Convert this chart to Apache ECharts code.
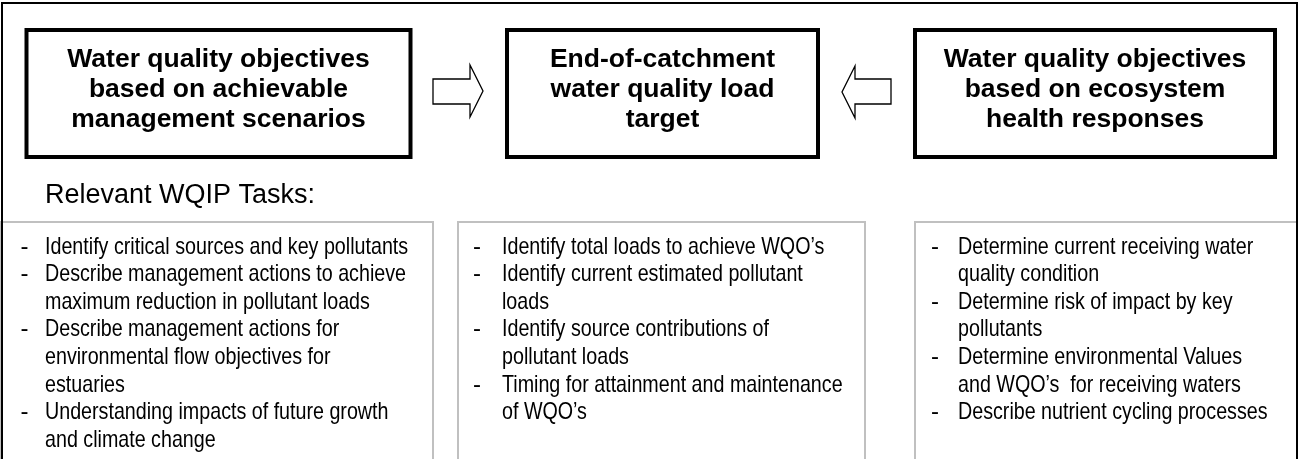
<!DOCTYPE html>
<html>
<head>
<meta charset="utf-8">
<script src="https://cdn.jsdelivr.net/npm/echarts@6/dist/echarts.min.js"></script>
<style>
  html, body { margin: 0; padding: 0; background: #fff; }
  #main { width: 1299px; height: 459px; }
</style>
</head>
<body>
<div id="main"></div>
<script>
// diagram texts
const headTitles = [
  ['Water quality objectives', 'based on achievable', 'management scenarios'],
  ['End-of-catchment', 'water quality load', 'target'],
  ['Water quality objectives', 'based on ecosystem', 'health responses']
]
const taskHeader = 'Relevant WQIP Tasks:'
const tasksManagement = [
  ['Identify critical sources and key pollutants'],
  ['Describe management actions to achieve', 'maximum reduction in pollutant loads'],
  ['Describe management actions for', 'environmental flow objectives for', 'estuaries'],
  ['Understanding impacts of future growth', 'and climate change']
]
const tasksLoads = [
  ['Identify total loads to achieve WQO’s'],
  ['Identify current estimated pollutant', 'loads'],
  ['Identify source contributions of', 'pollutant loads'],
  ['Timing for attainment and maintenance', 'of WQO’s']
]
const tasksEcosystem = [
  ['Determine current receiving water', 'quality condition'],
  ['Determine risk of impact by key', 'pollutants'],
  ['Determine environmental Values', 'and WQO’s  for receiving waters'],
  ['Describe nutrient cycling processes']
]

const FONT = '"Liberation Sans", Arial, Helvetica, sans-serif'

// layout (px)
const headBoxes = [
  { x: 26.5, w: 384 },
  { x: 507, w: 311 },
  { x: 915, w: 360 }
]
const taskBoxes = [
  { x: 1, w: 432, dash: 24.5, text: 45, items: tasksManagement },
  { x: 458, w: 407, dash: 477, text: 502, items: tasksLoads },
  { x: 915, w: 382, dash: 935, text: 958, items: tasksEcosystem }
]
const lineTop = 247
const lineStep = 27.6

const elements = []

// grey task boxes
taskBoxes.forEach((b) => {
  elements.push({
    type: 'rect',
    shape: { x: b.x, y: 222, width: b.w, height: 320 },
    style: { fill: '#fff', stroke: '#c0c0c0', lineWidth: 2 }
  })
  let row = 0
  b.items.forEach((item) => {
    elements.push({
      type: 'text',
      x: b.dash,
      y: lineTop + row * lineStep,
      style: {
        text: '-', fill: '#000', font: '24px ' + FONT,
        align: 'center', verticalAlign: 'middle'
      }
    })
    item.forEach((line) => {
      elements.push({
        type: 'text',
        x: b.text,
        y: lineTop + row * lineStep,
        scaleX: 0.82,
        style: {
          text: line, fill: '#000', font: '24px ' + FONT,
          align: 'left', verticalAlign: 'middle'
        }
      })
      row++
    })
  })
})

// outer frame
elements.push({
  type: 'rect',
  shape: { x: 2, y: 3, width: 1295, height: 520 },
  style: { fill: 'none', stroke: '#000', lineWidth: 2 }
})

// heading boxes
headBoxes.forEach((b, i) => {
  elements.push({
    type: 'rect',
    shape: { x: b.x, y: 30, width: b.w, height: 127 },
    style: { fill: '#fff', stroke: '#000', lineWidth: 4 }
  })
  elements.push({
    type: 'text',
    x: b.x + b.w / 2,
    y: 90,
    style: {
      text: headTitles[i].join('\n'), fill: '#000',
      font: 'bold 26.5px ' + FONT, lineHeight: 30,
      align: 'center', verticalAlign: 'middle'
    }
  })
})

// block arrows
const arrowStyle = { fill: '#fff', stroke: '#000', lineWidth: 1.3 }
elements.push({
  type: 'polygon',
  shape: { points: [[433, 79], [470, 79], [470, 65], [483, 91], [470, 117], [470, 104], [433, 104]] },
  style: arrowStyle
})
elements.push({
  type: 'polygon',
  shape: { points: [[891, 79], [855, 79], [855, 66], [842, 92], [855, 118], [855, 104], [891, 104]] },
  style: arrowStyle
})

// header of task list
elements.push({
  type: 'text',
  x: 45,
  y: 196,
  style: {
    text: taskHeader, fill: '#000', font: '27px ' + FONT,
    align: 'left', verticalAlign: 'middle'
  }
})

const myChart = echarts.init(document.getElementById('main'))
myChart.setOption({
  backgroundColor: '#fff',
  animation: false,
  graphic: { elements: elements }
})
</script>
</body>
</html>
